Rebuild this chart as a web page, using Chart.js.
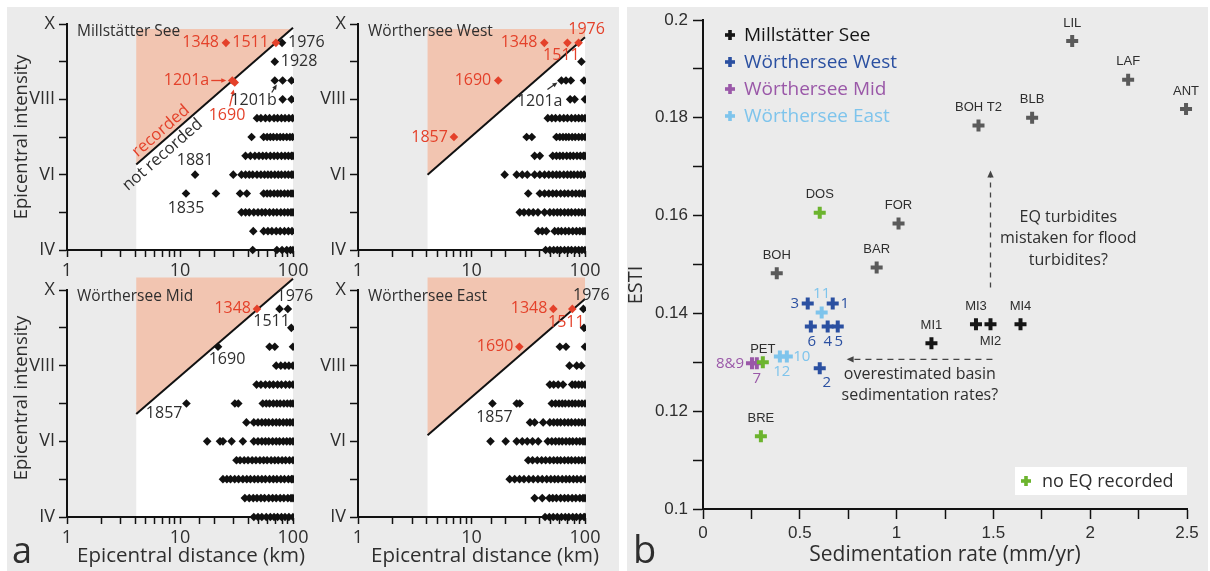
<!DOCTYPE html>
<html>
<head>
<meta charset="utf-8">
<title>Earthquake recording in Carinthian lakes</title>
<script src="https://cdn.jsdelivr.net/npm/chart.js@4.4.1/dist/chart.umd.min.js"></script>
<style>
  html, body { margin: 0; padding: 0; background: #fff; }
  #wrap { position: relative; width: 1210px; height: 571px; overflow: hidden; }
  .bg { position: absolute; background: #ebebeb; }
  canvas { position: absolute; }
</style>
</head>
<body>
<div id="wrap">
  <div class="bg" style="left:7px; top:7px; width:612px; height:564px"></div>
  <div class="bg" style="left:627px; top:7px; width:581px; height:564px"></div>
  <canvas id="mill" width="330" height="280" style="left:0; top:0"></canvas>
  <canvas id="west" width="318" height="280" style="left:300px; top:0"></canvas>
  <canvas id="mid" width="330" height="301" style="left:0; top:270px"></canvas>
  <canvas id="east" width="318" height="301" style="left:300px; top:270px"></canvas>
  <canvas id="esti" width="590" height="571" style="left:620px; top:0"></canvas>
</div>
<script>
// ---------- (a) epicentral intensity vs distance, one row of quakes per half intensity ----------
const millRows = [
  [9.5, [80]],
  [9,   [69]],
  [8.5, [69, 81, 97]],
  [8,   [81, 97]],
  [7.5, [48, 52, 57, 62, 68, 73, 79, 85, 92, 99]],
  [7,   [43, 55, 59, 63, 67, 72, 77, 82, 88, 94, 99]],
  [6.5, [38, 42, 46, 50, 54, 58, 63, 68, 73, 79, 85, 91, 97, 100]],
  [6,   [13.6, 29.6, 35, 38, 41, 44, 48, 52, 56, 60, 64, 69, 74, 79, 85, 91, 97, 100]],
  [5.5, [11.3, 20.8, 34, 39, 55, 59, 63, 68, 73, 78, 84, 90, 96, 100]],
  [5,   [35, 38, 41, 45, 49, 53, 57, 62, 67, 72, 78, 84, 90, 96, 100]],
  [4.5, [44.5, 55, 60, 65, 71, 77, 84, 91, 98]],
  [4,   [44, 72, 80, 88, 95, 100]]
];
const millRedKm = [25.5, 70.6, 29, 30.5];
const millRedInt = [9.5, 9.5, 8.5, 8.45];
const millLimit = [[4.1, 6.27], [100, 9.9]];

const westRows = [
  [9,   [93]],
  [8.5, [62, 68, 75, 98]],
  [8,   [74, 81, 100]],
  [7.5, [47, 51, 55, 60, 65, 70, 76, 82, 88, 94, 100]],
  [7,   [30.6, 34, 56, 60, 64, 68, 72, 77, 82, 88, 94, 100]],
  [6.5, [36, 40, 52, 56, 60, 64, 69, 74, 79, 85, 91, 97, 100]],
  [6,   [19.6, 25, 28, 31, 36, 40, 44, 48, 52, 56, 60, 65, 70, 75, 80, 86, 92, 98]],
  [5.5, [31.6, 40, 44, 48, 52, 56, 61, 66, 71, 77, 83, 89, 95, 100]],
  [5,   [26.6, 29, 32, 35, 38.5, 44, 49, 53, 57, 61, 66, 71, 76, 82, 88, 94, 100]],
  [4.5, [38.7, 42, 45.6, 54, 58, 62, 67, 72, 78, 84, 90, 96, 100]],
  [4,   [45, 49, 53, 57, 61, 66, 71, 76, 82, 88, 94, 100]]
];
const westRedKm = [43.8, 70, 87.8, 17.2, 7];
const westRedInt = [9.5, 9.5, 9.5, 8.5, 7];
const westLimit = [[4.1, 6.0], [100, 9.65]];

const midRows = [
  [9.5, [76, 90]],
  [9,   [96.6]],
  [8.5, [21.7, 62, 69, 100]],
  [8,   [71, 78, 85, 92, 100]],
  [7.5, [47.6, 52, 57, 62, 67, 73, 79, 86, 93, 100]],
  [7,   [11.4, 30.6, 32.8, 54, 58, 62, 67, 72, 77, 83, 89, 95, 100]],
  [6.5, [38.7, 45, 49, 53, 57, 61, 66, 71, 76, 82, 88, 94, 100]],
  [6,   [17.4, 22.6, 24, 28.6, 36, 45, 49, 53, 57, 61, 66, 71, 76, 82, 88, 94, 100]],
  [5.5, [31.6, 34, 37, 40, 43.5, 47, 51, 55, 59, 64, 69, 74, 80, 86, 93, 100]],
  [5,   [24, 26, 28, 30.5, 33, 36, 39, 42, 45.5, 49, 53, 57, 62, 67, 72, 78, 84, 91, 97, 100]],
  [4.5, [37.5, 41, 44.5, 48, 52, 56, 61, 66, 71, 77, 83, 90, 96, 100]],
  [4,   [45, 49, 53, 58, 63, 68, 73, 79, 85, 92, 100]]
];
const midRedKm = [48];
const midRedInt = [9.5];
const midLimit = [[4.1, 6.72], [100, 10.3]];

const eastRows = [
  [9.5, [96.7]],
  [9,   [98]],
  [8.5, [60, 68, 100]],
  [8,   [73, 84.5, 93]],
  [7.5, [49, 53, 58, 64, 77, 82, 88, 94, 100]],
  [7,   [15.3, 25, 26.6, 51, 55, 59, 63, 67, 72, 77, 82, 88, 94, 100]],
  [6.5, [32.8, 36, 42.8, 49, 53, 57, 61, 66, 71, 76, 82, 88, 94, 100]],
  [6,   [14.7, 20, 25, 28, 31, 34.5, 38.7, 47, 51, 55, 59, 63, 68, 73, 78, 84, 90, 96, 100]],
  [5.5, [31.6, 34.5, 38, 41.5, 45, 49, 53, 57, 61, 66, 71, 76, 82, 88, 94, 100]],
  [5,   [21.7, 24, 26.5, 29, 32, 35, 38.5, 42, 46, 50, 54, 58, 63, 68, 73, 79, 85, 92, 100]],
  [4.5, [36, 42, 48.5, 52, 56, 61, 66, 71, 77, 83, 90, 96, 100]],
  [4,   [44.5, 48.5, 52.5, 57, 62, 67, 72, 78, 84, 91, 98, 100]]
];
const eastRedKm = [52.6, 77.3, 26.4];
const eastRedInt = [9.5, 9.5, 8.5];
const eastLimit = [[4.1, 6.16], [100, 9.76]];

const romanTicks = { 4: 'IV', 6: 'VI', 8: 'VIII', 10: 'X' };
const distanceTicks = [1, 10, 100];

// ---------- (b) ESTI vs sedimentation rate ----------
const millSites = ['MI1', 'MI2', 'MI3', 'MI4'];
const millRate = [1.18, 1.485, 1.41, 1.64];
const millEsti = [0.1339, 0.1378, 0.1378, 0.1378];
const westSites = ['1', '2', '3', '4', '5', '6'];
const westRate = [0.67, 0.603, 0.541, 0.644, 0.696, 0.557];
const westEsti = [0.142, 0.1288, 0.142, 0.1373, 0.1373, 0.1373];
const midSites = ['7', '8&9'];
const midRate = [0.278, 0.253];
const midEsti = [0.1298, 0.1298];
const eastSites = ['10', '11', '12'];
const eastRate = [0.433, 0.613, 0.397];
const eastEsti = [0.1312, 0.1402, 0.1312];
const otherSites = ['BOH', 'BAR', 'FOR', 'BOH T2', 'BLB', 'LIL', 'LAF', 'ANT'];
const otherRate = [0.381, 0.897, 1.01, 1.423, 1.70, 1.907, 2.196, 2.495];
const otherEsti = [0.1482, 0.1494, 0.1584, 0.1784, 0.180, 0.1957, 0.1878, 0.1818];
const quietSites = ['DOS', 'PET', 'BRE'];
const quietRate = [0.603, 0.309, 0.299];
const quietEsti = [0.1606, 0.130, 0.1149];

// ---------- styling ----------
const SALMON = '#f2c5b1', RED = '#e4412a', INK = '#2e2e2e', DOT = '#111';
const MYRIAD = '"Open Sans", "Noto Sans", sans-serif';
const ARIAL = '"Liberation Sans", Arial, sans-serif';
const yearFont = `16px ${MYRIAD}`;

function arrow(ctx, x0, y0, x1, y1, color, dash, head) {
  head = head || 6;
  const a = Math.atan2(y1 - y0, x1 - x0);
  const c = Math.cos(a), s = Math.sin(a);
  ctx.save();
  ctx.strokeStyle = color; ctx.fillStyle = color; ctx.lineWidth = 1.3;
  ctx.setLineDash(dash || []);
  ctx.beginPath(); ctx.moveTo(x0, y0); ctx.lineTo(x1 - c * head * 0.8, y1 - s * head * 0.8); ctx.stroke();
  ctx.setLineDash([]);
  ctx.beginPath();
  ctx.moveTo(x1, y1);
  ctx.lineTo(x1 - head * c + head * 0.45 * s, y1 - head * s - head * 0.45 * c);
  ctx.lineTo(x1 - head * c - head * 0.45 * s, y1 - head * s + head * 0.45 * c);
  ctx.closePath(); ctx.fill();
  ctx.restore();
}

function crossMark(ctx, x, y, r, w, color) {
  ctx.fillStyle = color;
  ctx.fillRect(x - r, y - w / 2, 2 * r, w);
  ctx.fillRect(x - w / 2, y - r, w, 2 * r);
}

// white "not recorded" wedge and salmon "recorded" wedge behind the points
function recordingZone(limit, top) {
  return {
    id: 'recordingZone',
    beforeDraw(chart) {
      const { ctx, scales: { x, y } } = chart;
      const [[k0, i0], [k1, i1]] = limit;
      const X0 = x.getPixelForValue(k0), X1 = x.getPixelForValue(k1);
      const A = y.getPixelForValue(i0), B = y.getPixelForValue(i1);
      const T = y.getPixelForValue(top), F = y.getPixelForValue(4);
      ctx.save();
      ctx.fillStyle = '#fff';
      ctx.beginPath(); ctx.moveTo(X0, F); ctx.lineTo(X1, F); ctx.lineTo(X1, B); ctx.lineTo(X0, A); ctx.closePath(); ctx.fill();
      ctx.fillStyle = SALMON;
      ctx.beginPath(); ctx.moveTo(X0, A); ctx.lineTo(X1, B); ctx.lineTo(X1, T); ctx.lineTo(X0, T); ctx.closePath(); ctx.fill();
      ctx.restore();
    }
  };
}

// text, arrows and boxes; anchored to data values, the chart area or the canvas
function notes(items, limit) {
  return {
    id: 'notes',
    afterDatasetsDraw(chart) {
      const { ctx, chartArea: area, scales: { x, y } } = chart;
      const px = n => n.at === 'canvas' ? [n.dx, n.dy]
        : n.at === 'area' ? [area.left + n.dx, area.top + n.dy]
        : n.at === 'corner' ? [area.right + n.dx, area.bottom + n.dy]
        : [x.getPixelForValue(n.x) + (n.dx || 0), y.getPixelForValue(n.y) + (n.dy || 0)];
      items.forEach(n => {
        ctx.save();
        if (n.line) {
          const [[a0, b0], [a1, b1]] = n.line;
          arrow(ctx, x.getPixelForValue(a0), y.getPixelForValue(b0), x.getPixelForValue(a1), y.getPixelForValue(b1), n.color, n.dash, 7);
        } else if (n.arrow) {
          const X = x.getPixelForValue(n.x), Y = y.getPixelForValue(n.y);
          arrow(ctx, X + n.arrow[0], Y + n.arrow[1], X + n.arrow[2], Y + n.arrow[3], n.color, null, 5);
        } else if (n.box) {
          const [bx, by] = px(n);
          ctx.fillStyle = n.color;
          ctx.fillRect(bx, by, n.box[0], n.box[1]);
        } else if (n.cross) {
          const [cx, cy] = px(n);
          crossMark(ctx, cx, cy, n.cross[0], n.cross[1], n.color);
        } else {
          let tx, ty, rot = n.rot || 0;
          if (n.along != null) {
            const X0 = x.getPixelForValue(limit[0][0]), Y0 = y.getPixelForValue(limit[0][1]);
            const X1 = x.getPixelForValue(limit[1][0]), Y1 = y.getPixelForValue(limit[1][1]);
            const len = Math.hypot(X1 - X0, Y1 - Y0), ux = (X1 - X0) / len, uy = (Y1 - Y0) / len;
            rot = Math.atan2(Y1 - Y0, X1 - X0);
            tx = X0 + ux * len * n.along - uy * n.off;
            ty = Y0 + uy * len * n.along + ux * n.off;
          } else {
            [tx, ty] = px(n);
          }
          ctx.font = n.font; ctx.fillStyle = n.color;
          ctx.textAlign = n.align || 'center'; ctx.textBaseline = n.base || 'middle';
          ctx.translate(tx, ty); ctx.rotate(rot);
          ctx.fillText(n.t, 0, 0);
        }
        ctx.restore();
      });
    }
  };
}

const yr = (t, x, y, dx, dy, align, color) => ({ t, x, y, dx, dy, align, color, font: yearFont });
const lakeTitle = (t, dy) => ({ t, at: 'area', dx: 10, dy, align: 'left', color: INK, font: `15.5px ${MYRIAD}` });
const axisTitle = (t, dx, dy, rot, size) => ({ t, at: 'canvas', dx, dy, rot, color: INK, font: `${size}px ${MYRIAD}` });

function intensityChart(id, c) {
  const black = [];
  c.rows.forEach(([I, kms]) => kms.forEach(km => black.push({ x: km, y: I })));
  const red = c.redKm.map((km, i) => ({ x: km, y: c.redInt[i] }));
  const tickFont = { family: MYRIAD, size: 18 };
  const tickGrid = len => ({ drawOnChartArea: false, tickLength: len, tickColor: DOT, tickWidth: 1.5 });
  const pointClip = { left: 5, right: 1, top: 5, bottom: 5 };
  return new Chart(document.getElementById(id), {
    type: 'scatter',
    data: {
      datasets: [
        { data: c.limit.map(([x, y]) => ({ x, y })), showLine: true, borderColor: DOT, borderWidth: 2, pointRadius: 0, clip: false, order: 2 },
        { data: black, backgroundColor: DOT, clip: pointClip, order: 1 },
        { data: red, backgroundColor: RED, clip: pointClip, order: 0 }
      ]
    },
    options: {
      responsive: false, animation: false, devicePixelRatio: 1, events: [],
      layout: { padding: { top: c.padTop, right: c.padRight, left: 0, bottom: 0 } },
      elements: { point: { pointStyle: 'rectRot', radius: 4.3, borderWidth: 0 } },
      plugins: { legend: { display: false }, tooltip: { enabled: false } },
      scales: {
        x: {
          type: 'logarithmic', min: 1, max: 100,
          grid: tickGrid(7), border: { color: DOT, width: 2 },
          ticks: { autoSkip: false, maxRotation: 0, padding: 3, color: INK, font: tickFont,
                   callback: v => (distanceTicks.includes(v) ? String(v) : '') },
          afterFit: s => { s.height = c.xh; s.paddingLeft = 0; s.paddingRight = 0; }
        },
        y: {
          min: 4, max: 10,
          grid: tickGrid(8), border: { color: DOT, width: 2 },
          ticks: { stepSize: 1, padding: 4, color: INK, font: tickFont, callback: v => romanTicks[v] || '' },
          afterFit: s => { s.width = c.yw; s.paddingTop = 0; s.paddingBottom = 0; }
        }
      }
    },
    plugins: [recordingZone(c.limit, c.top), notes(c.notes, c.limit)]
  });
}

intensityChart('mill', {
  rows: millRows, redKm: millRedKm, redInt: millRedInt, limit: millLimit, top: 9.87,
  yw: 67, xh: 30, padTop: 24, padRight: 37,
  notes: [
    lakeTitle('Millstätter See', 8),
    yr('1348', 25.5, 9.5, -7, 0, 'right', RED),
    yr('1511', 70.6, 9.5, -7, 0, 'right', RED),
    yr('1976', 80, 9.5, 6, 0, 'left', INK),
    yr('1928', 69, 9, 6, 0, 'left', INK),
    yr('1201a', 29, 8.5, -23, 0, 'right', RED),
    { arrow: [-21, 0, -6, 0], x: 29, y: 8.5, color: RED },
    yr('1690', 30.5, 8.45, -26, 33, 'left', RED),
    { arrow: [-5, 24, -1, 7], x: 30.5, y: 8.45, color: RED },
    yr('1201b', 69, 8.5, 2, 20, 'right', INK),
    { arrow: [-3, 12, 2, 4], x: 69, y: 8.5, color: INK },
    yr('1881', 13.6, 6, 0, -14, 'center', INK),
    yr('1835', 11.3, 5.5, 0, 15, 'center', INK),
    { t: 'recorded', along: 0.195, off: -9, color: RED, font: `16.5px ${MYRIAD}` },
    { t: 'not recorded', along: 0.126, off: 10, color: INK, font: `16.5px ${MYRIAD}` },
    axisTitle('Epicentral intensity', 22, 137, -Math.PI / 2, 18.5)
  ]
});

intensityChart('west', {
  rows: westRows, redKm: westRedKm, redInt: westRedInt, limit: westLimit, top: 9.87,
  yw: 58, xh: 30, padTop: 24, padRight: 33,
  notes: [
    lakeTitle('Wörthersee West', 8),
    yr('1348', 43.8, 9.5, -7, 0, 'right', RED),
    yr('1976', 87.8, 9.5, 8, -13, 'center', RED),
    yr('1511', 70, 9.5, -6, 13, 'center', RED),
    yr('1690', 17.2, 8.5, -7, 0, 'right', RED),
    yr('1857', 7, 7, -6, 0, 'right', RED),
    yr('1201a', 62, 8.5, 1, 21, 'right', INK),
    { arrow: [-14, 9, -4, 2], x: 62, y: 8.5, color: INK }
  ]
});

intensityChart('mid', {
  rows: midRows, redKm: midRedKm, redInt: midRedInt, limit: midLimit, top: 10.33,
  yw: 67, xh: 54, padTop: 20, padRight: 37,
  notes: [
    lakeTitle('Wörthersee Mid', 7),
    yr('1348', 48, 9.5, -6, 0, 'right', RED),
    yr('1976', 76, 9.5, -3, -12, 'left', INK),
    yr('1511', 76, 9.5, -8, 13, 'center', INK),
    yr('1690', 21.7, 8.5, 9, 13, 'center', INK),
    yr('1857', 11.4, 7, -4, 10, 'right', INK),
    axisTitle('Epicentral intensity', 22, 128, -Math.PI / 2, 18.5),
    axisTitle('Epicentral distance (km)', 191, 286, 0, 20.5),
    { t: 'a', at: 'canvas', dx: 12, dy: 293, align: 'left', base: 'alphabetic', color: INK, font: `36px ${MYRIAD}` }
  ]
});

intensityChart('east', {
  rows: eastRows, redKm: eastRedKm, redInt: eastRedInt, limit: eastLimit, top: 10.33,
  yw: 58, xh: 54, padTop: 20, padRight: 33,
  notes: [
    lakeTitle('Wörthersee East', 7),
    yr('1976', 96.7, 9.5, 8, -13, 'center', INK),
    yr('1348', 52.6, 9.5, -6, 0, 'right', RED),
    yr('1511', 77.3, 9.5, -6, 14, 'center', RED),
    yr('1690', 26.4, 8.5, -6, 0, 'right', RED),
    yr('1857', 15.3, 7, 2, 14, 'center', INK),
    axisTitle('Epicentral distance (km)', 185, 286, 0, 20.5)
  ]
});

// ---------- panel b ----------
const series = [
  { name: 'Millstätter See', sites: millSites, rate: millRate, esti: millEsti, color: '#151515', legend: true, codes: true },
  { name: 'Wörthersee West', sites: westSites, rate: westRate, esti: westEsti, color: '#2b50a1', legend: true },
  { name: 'Wörthersee Mid', sites: midSites, rate: midRate, esti: midEsti, color: '#9a58a8', legend: true },
  { name: 'Wörthersee East', sites: eastSites, rate: eastRate, esti: eastEsti, color: '#7ec4ec', legend: true },
  { name: 'other lakes', sites: otherSites, rate: otherRate, esti: otherEsti, color: '#5a5a5a', codes: true },
  { name: 'no EQ recorded', sites: quietSites, rate: quietRate, esti: quietEsti, color: '#6cb42e', codes: true }
];

const codeShift = { MI2: 17, PET: -13 };
const numberShift = {
  '1': [12, 0], '2': [7, 15], '3': [-13, 0], '4': [0, 15], '5': [1, 15], '6': [1, 15],
  '7': [0, 15], '8&9': [-8, 0, 'right'], '10': [15, 0], '11': [0, -19], '12': [2, 15]
};

const estiNotes = [];
series.forEach(s => s.sites.forEach((name, i) => {
  if (s.codes) {
    estiNotes.push({ t: name, x: s.rate[i], y: s.esti[i], dx: 0, dy: codeShift[name] || -18,
                     color: INK, font: `13px ${ARIAL}` });
  } else {
    const [dx, dy, align] = numberShift[name];
    estiNotes.push({ t: name, x: s.rate[i], y: s.esti[i], dx, dy, align: align || 'center',
                     color: s.color, font: `15px ${MYRIAD}` });
  }
}));
series.filter(s => s.legend).forEach((s, k) => {
  estiNotes.push({ cross: [5, 3.6], at: 'area', dx: 27, dy: 15 + k * 27, color: s.color });
  estiNotes.push({ t: s.name, at: 'area', dx: 41, dy: 16 + k * 27, align: 'left', color: s.color, font: `19px ${MYRIAD}` });
});
const quiet = series[series.length - 1];
estiNotes.push(
  { box: [172, 28], at: 'corner', dx: -172, dy: -42, color: '#fff' },
  { cross: [5, 3.6], at: 'corner', dx: -161, dy: -28, color: quiet.color },
  { t: quiet.name, at: 'corner', dx: -145, dy: -27, align: 'left', color: INK, font: `18px ${MYRIAD}` },
  { line: [[1.485, 0.1453], [1.485, 0.1692]], color: '#444', dash: [5, 5] },
  { line: [[1.495, 0.1306], [0.742, 0.1306]], color: '#444', dash: [6, 5] },
  { t: 'EQ turbidites', x: 1.887, y: 0.1596, color: INK, font: `16px ${MYRIAD}` },
  { t: 'mistaken for flood', x: 1.887, y: 0.1553, color: INK, font: `16px ${MYRIAD}` },
  { t: 'turbidites?', x: 1.887, y: 0.1508, color: INK, font: `16px ${MYRIAD}` },
  { t: 'overestimated basin', x: 1.12, y: 0.1276, color: INK, font: `16px ${MYRIAD}` },
  { t: 'sedimentation rates?', x: 1.12, y: 0.1233, color: INK, font: `16px ${MYRIAD}` },
  { t: 'ESTI', at: 'canvas', dx: 16, dy: 285, rot: -Math.PI / 2, color: INK, font: `20px ${MYRIAD}` },
  { t: 'Sedimentation rate (mm/yr)', at: 'canvas', dx: 325, dy: 555, color: INK, font: `21px ${MYRIAD}` },
  { t: 'b', at: 'canvas', dx: 13, dy: 563, align: 'left', base: 'alphabetic', color: INK, font: `38px ${MYRIAD}` }
);

const isStep = (v, step) => Math.abs(v / step - Math.round(v / step)) < 1e-6;
const estiTickFont = { family: ARIAL, size: 17 };

new Chart(document.getElementById('esti'), {
  type: 'scatter',
  data: {
    datasets: series.map((s, k) => ({
      label: s.name,
      data: s.rate.map((r, i) => ({ x: r, y: s.esti[i] })),
      borderColor: s.color, backgroundColor: s.color, clip: false,
      order: k === series.length - 1 ? 0 : 1
    }))
  },
  options: {
    responsive: false, animation: false, devicePixelRatio: 1, events: [],
    layout: { padding: { top: 20, right: 23, left: 0, bottom: 0 } },
    elements: { point: { pointStyle: 'cross', radius: 6, borderWidth: 4 } },
    plugins: { legend: { display: false }, tooltip: { enabled: false } },
    scales: {
      x: {
        min: 0, max: 2.5,
        grid: { drawOnChartArea: false, tickLength: 10, tickColor: DOT, tickWidth: 1.5 },
        border: { color: DOT, width: 2 },
        ticks: { stepSize: 0.25, autoSkip: false, maxRotation: 0, padding: 4, color: INK, font: estiTickFont,
                 callback: v => (isStep(v, 0.5) ? String(Math.round(v * 10) / 10) : '') },
        afterFit: s => { s.height = 62; s.paddingLeft = 0; s.paddingRight = 0; }
      },
      y: {
        min: 0.1, max: 0.2,
        grid: { drawOnChartArea: false, tickLength: 10, tickColor: DOT, tickWidth: 1.5 },
        border: { color: DOT, width: 2 },
        ticks: { stepSize: 0.01, autoSkip: false, padding: 5, color: INK, font: estiTickFont,
                 callback: v => (isStep(v, 0.02) ? String(Math.round(v * 100) / 100) : '') },
        afterFit: s => { s.width = 83; s.paddingTop = 0; s.paddingBottom = 0; }
      }
    }
  },
  plugins: [notes(estiNotes)]
});
</script>
</body>
</html>
